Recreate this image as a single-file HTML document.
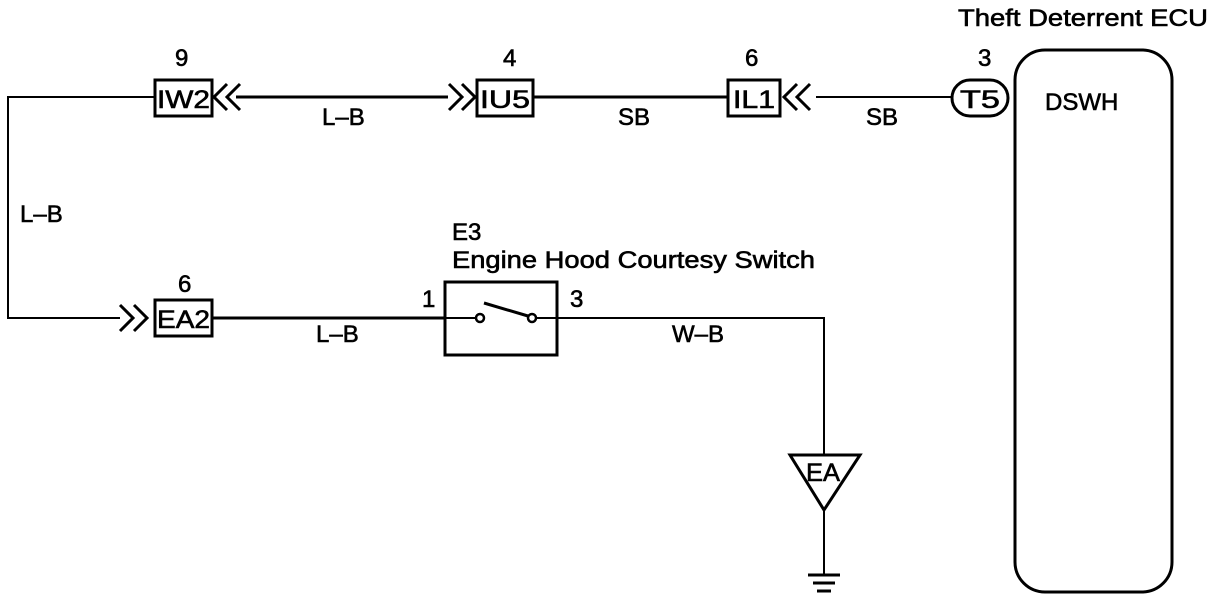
<!DOCTYPE html>
<html><head><style>body{margin:0;background:#fff}</style></head><body>
<svg width="1216" height="600" xmlns="http://www.w3.org/2000/svg" style="display:block" font-family="Liberation Sans, sans-serif" font-size="24">
<g stroke="#000" fill="none" stroke-width="2">
<polyline points="155,97 8,97 8,318 120,318"/>
<line x1="236" y1="97" x2="448" y2="97" stroke-width="3"/>
<line x1="533" y1="97" x2="728" y2="97" stroke-width="3"/>
<line x1="816" y1="97" x2="952" y2="97"/>
<line x1="212" y1="318" x2="445" y2="318" stroke-width="3"/>
<polyline points="557,318 824,318 824,455"/>
<line x1="824" y1="510" x2="824" y2="575"/>
<rect x="155" y="80" width="57" height="36" stroke-width="3"/>
<rect x="477" y="80" width="56" height="36" stroke-width="3"/>
<rect x="728" y="80" width="52" height="36" stroke-width="3"/>
<rect x="952" y="80" width="56" height="36" rx="18" stroke-width="3"/>
<rect x="1015" y="50" width="157" height="542" rx="30" stroke-width="3"/>
<rect x="155" y="300" width="57" height="36" stroke-width="3"/>
<rect x="445" y="282" width="112" height="73" stroke-width="3"/>
<g stroke-width="3">
<polyline points="227,84 214,97 227,110"/><polyline points="240,84 227,97 240,110"/>
<polyline points="449,84 462,97 449,110"/><polyline points="462,84 475,97 462,110"/>
<polyline points="797,84 784,97 797,110"/><polyline points="810,84 797,97 810,110"/>
<polyline points="120,305 133,318 120,331"/><polyline points="134,305 147,318 134,331"/>
</g>
<line x1="445" y1="318" x2="476" y2="318"/>
<line x1="536" y1="318" x2="557" y2="318"/>
<circle cx="480" cy="318" r="4" stroke-width="2.5"/>
<circle cx="532" cy="318" r="4" stroke-width="2.5"/>
<line x1="484" y1="303" x2="528" y2="316" stroke-width="3"/>
<polygon points="790,455 860,455 824,510" stroke-width="3"/>
<line x1="808" y1="575" x2="840" y2="575" stroke-width="3"/>
<line x1="813" y1="583" x2="835" y2="583" stroke-width="3"/>
<line x1="817" y1="591" x2="831" y2="591" stroke-width="3"/>
</g>
<g fill="#000" stroke="#000" stroke-width="0.6">
<g font-size="25">
<text x="157" y="108" textLength="53" lengthAdjust="spacingAndGlyphs">IW2</text>
<text x="480" y="108" textLength="50" lengthAdjust="spacingAndGlyphs">IU5</text>
<text x="733" y="108" textLength="42" lengthAdjust="spacingAndGlyphs">IL1</text>
<text x="960" y="108" textLength="40" lengthAdjust="spacingAndGlyphs">T5</text>
<text x="157" y="328" textLength="53" lengthAdjust="spacingAndGlyphs">EA2</text>
<text x="806" y="481" textLength="34" lengthAdjust="spacingAndGlyphs">EA</text>
</g>
<text x="175" y="66">9</text><text x="503" y="66">4</text><text x="745" y="66">6</text><text x="978" y="66">3</text>
<text x="178" y="292">6</text>
<text x="322" y="125">L–B</text><text x="618" y="125">SB</text><text x="866" y="125">SB</text>
<text x="20" y="222">L–B</text>
<text x="316" y="342">L–B</text><text x="672" y="342">W–B</text>
<text x="422" y="307">1</text><text x="570" y="307">3</text>
<text x="452" y="240">E3</text>
<text x="452" y="268" textLength="363" lengthAdjust="spacingAndGlyphs">Engine Hood Courtesy Switch</text>
<text x="958" y="26" textLength="250" lengthAdjust="spacingAndGlyphs">Theft Deterrent ECU</text>
<text x="1045" y="110">DSWH</text>
</g>
</svg>
</body></html>
